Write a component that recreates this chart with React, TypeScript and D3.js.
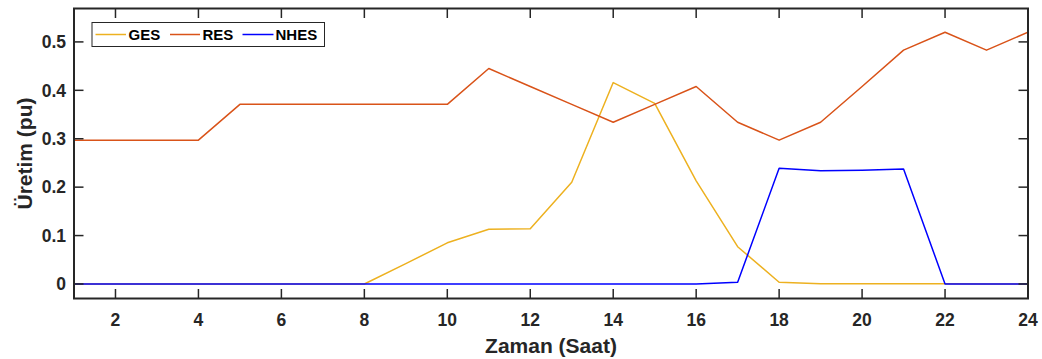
import React from "react";
import * as d3 from "d3";

const hours = d3.range(1, 25);
const gesValues = [0, 0, 0, 0, 0, 0, 0, 0, 0.042, 0.085, 0.113, 0.114, 0.21, 0.416, 0.373, 0.213, 0.077, 0.0035, 0.0006, 0.0005, 0.0005, 0.0005, 0, 0];
const resValues = [0.297, 0.297, 0.297, 0.297, 0.371, 0.371, 0.371, 0.371, 0.371, 0.371, 0.445, 0.408, 0.371, 0.334, 0.371, 0.408, 0.334, 0.297, 0.334, 0.408, 0.483, 0.52, 0.483, 0.52];
const nhesValues = [0, 0, 0, 0, 0, 0, 0, 0, 0, 0, 0, 0, 0, 0, 0, 0, 0.0035, 0.239, 0.234, 0.235, 0.2375, 0, 0, 0];
const xTicks = [2, 4, 6, 8, 10, 12, 14, 16, 18, 20, 22, 24];
const yTicks = [0, 0.1, 0.2, 0.3, 0.4, 0.5];
const seriesNames = ["GES", "RES", "NHES"];
const seriesColors = ["#EDB120", "#D95319", "#0000FF"];

const W = 1042, H = 359;
const m = { left: 74, right: 14, top: 8.5, bottom: 60.5 };
const FONT = "'Liberation Sans', Arial, Helvetica, sans-serif";
const AX = "#262626";

export default function App() {
  const x = d3.scaleLinear().domain([1, 24]).range([m.left, W - m.right]);
  const y = d3.scaleLinear().domain([-0.03, 0.569]).range([H - m.bottom, m.top]);
  const series = [gesValues, resValues, nhesValues];
  const line = (vals: number[]) =>
    d3.line<number>().x((_, i) => x(hours[i])).y((v) => y(v))(vals) || "";
  const x0 = m.left, x1 = W - m.right, y0 = H - m.bottom, y1 = m.top;
  const tl = 9.5;
  const legX = 92, legY = 22.5, legW = 232.5, legH = 24;
  const legItems = [
    { lx1: 95.5, lx2: 126, tx: 128.5 },
    { lx1: 170, lx2: 200, tx: 202.5 },
    { lx1: 242.5, lx2: 273.5, tx: 275.5 },
  ];
  return (
    <div style={{ position: "absolute", left: 0, top: 0 }}>
      <svg width={W} height={H} style={{ display: "block", background: "#fff" }}>
        <defs>
          <clipPath id="plotclip">
            <rect x={x0} y={y1} width={x1 - x0} height={y0 - y1} />
          </clipPath>
        </defs>
        <g clipPath="url(#plotclip)">
          {series.map((s, i) => (
            <path key={i} d={line(s)} fill="none" stroke={seriesColors[i]} strokeWidth={1.5} strokeLinejoin="round" />
          ))}
        </g>
        {/* ticks */}
        {xTicks.map((t) => (
          <g key={"xt" + t}>
            <line x1={x(t)} x2={x(t)} y1={y0} y2={y0 - tl} stroke={AX} strokeWidth={1.5} />
            <line x1={x(t)} x2={x(t)} y1={y1} y2={y1 + tl} stroke={AX} strokeWidth={1.5} />
            <text x={x(t)} y={325.5} textAnchor="middle" fontFamily={FONT} fontWeight="bold" fontSize={17.5} fill={AX}>
              {t}
            </text>
          </g>
        ))}
        {yTicks.map((t) => (
          <g key={"yt" + t}>
            <line x1={x0} x2={x0 + tl} y1={y(t)} y2={y(t)} stroke={AX} strokeWidth={1.5} />
            <line x1={x1} x2={x1 - tl} y1={y(t)} y2={y(t)} stroke={AX} strokeWidth={1.5} />
            <text x={66} y={y(t)} dy="0.36em" textAnchor="end" fontFamily={FONT} fontWeight="bold" fontSize={17.5} fill={AX}>
              {t === 0 ? "0" : t.toFixed(1)}
            </text>
          </g>
        ))}
        <rect x={x0} y={y1} width={x1 - x0} height={y0 - y1} fill="none" stroke={AX} strokeWidth={2} />
        {/* axis labels */}
        <text x={(x0 + x1) / 2} y={353} textAnchor="middle" fontFamily={FONT} fontWeight="bold" fontSize={21} fill={AX}>
          Zaman (Saat)
        </text>
        <text transform={`translate(32,${(y0 + y1) / 2}) rotate(-90)`} textAnchor="middle" fontFamily={FONT} fontWeight="bold" fontSize={21} fill={AX}>
          Üretim (pu)
        </text>
        {/* legend */}
        <rect x={legX} y={legY} width={legW} height={legH} fill="#fff" stroke={AX} strokeWidth={1} />
        {legItems.map((it, i) => (
          <g key={"lg" + i}>
            <line x1={it.lx1} x2={it.lx2} y1={legY + legH / 2} y2={legY + legH / 2} stroke={seriesColors[i]} strokeWidth={1.5} />
            <text x={it.tx} y={legY + legH / 2} dy="0.36em" fontFamily={FONT} fontWeight="bold" fontSize={15} fill="#000">
              {seriesNames[i]}
            </text>
          </g>
        ))}
      </svg>
    </div>
  );
}
